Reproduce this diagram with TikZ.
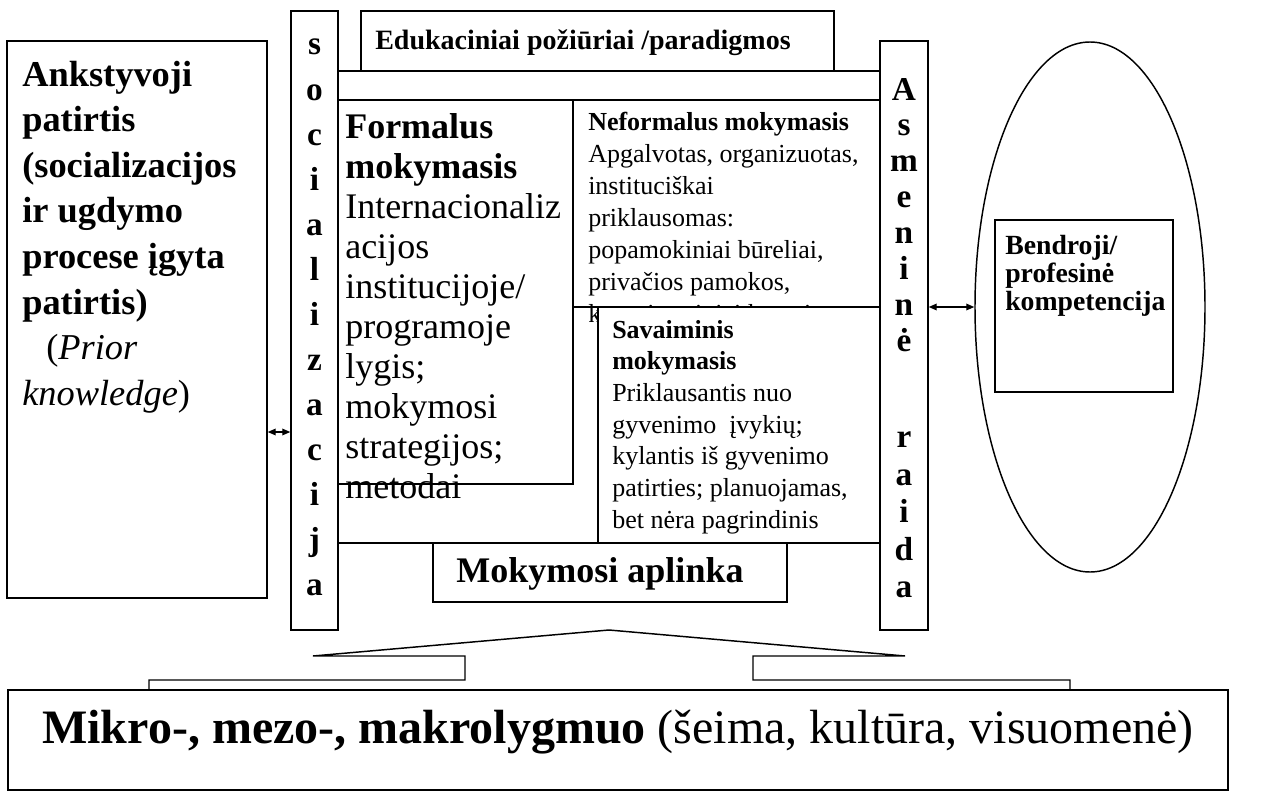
\documentclass[tikz,border=0pt]{standalone}
\usepackage{fontspec}
\setmainfont{Liberation Serif}
\usetikzlibrary{shapes.geometric,arrows.meta,fit}
\begin{document}
\begin{tikzpicture}[x=0.75pt,y=-0.75pt,
  box/.style={draw,line width=1.1pt,inner sep=0pt},
  txt/.style={inner sep=0pt,anchor=base west},
  vlet/.style={inner sep=0pt,anchor=base,font=\fontsize{25}{28}\selectfont\bfseries},
  dbl/.style={{Triangle[length=6pt,width=5pt]}-{Triangle[length=6pt,width=5pt]},line width=0.9pt}]
\useasboundingbox (0,0) rectangle (1286,803);
% frame boxes
\node[box,fit={(7,41)(267,598)}] (prior) {};
\node[box,fit={(291,11)(338,630)}] (soc) {};
\node[box,fit={(880,41)(928,630)}] (asm) {};
\node[box,fit={(361,11)(834,71)}] (edu) {};
\node[box,fit={(338,71)(880,543)}] (band) {};
\node[box,fit={(338,71)(880,100)}] (strip) {};
\node[box,fit={(338,100)(573,484)}] (formal) {};
\node[box,fit={(573,100)(880,307)}] (neform) {};
% Neformalus text (its last line is partly hidden by the next box)
\node[txt,font=\fontsize{19.5}{24}\selectfont] (tneform) at (588,130) {\begin{tabular}[t]{@{}l@{}}
\textbf{Neformalus mokymasis}\\
Apgalvotas, organizuotas,\\
instituciškai\\
priklausomas:\\
popamokiniai būreliai,\\
privačios pamokos,\\
kompiuteriniai kursai\end{tabular}};
\node[box,fill=white,fit={(598,307)(880,543)}] (savai) {};
\node[txt,font=\fontsize{19.5}{23.8}\selectfont] (tsavai) at (612,338) {\begin{tabular}[t]{@{}l@{}}
\textbf{Savaiminis}\\
\textbf{mokymasis}\\
Priklausantis nuo\\
gyvenimo\ \ įvykių;\\
kylantis iš gyvenimo\\
patirties; planuojamas,\\
bet nėra pagrindinis\end{tabular}};
\node[txt,font=\fontsize{27}{30}\selectfont] (tformal) at (345,138) {\begin{tabular}[t]{@{}l@{}}
\textbf{Formalus}\\
\textbf{mokymasis}\\
Internacionaliz\\
acijos\\
institucijoje/\\
programoje\\
lygis;\\
mokymosi\\
strategijos;\\
metodai\end{tabular}};
\node[txt,font=\fontsize{27.3}{34.2}\selectfont] (tprior) at (22,86) {\begin{tabular}[t]{@{}l@{}}
\textbf{Ankstyvoji}\\
\textbf{patirtis}\\
\textbf{(socializacijos}\\
\textbf{ir ugdymo}\\
\textbf{procese įgyta}\\
\textbf{patirtis)}\\
\hspace*{18pt}(\textit{Prior}\\
\textit{knowledge})\end{tabular}};
\node[txt,font=\fontsize{21}{24}\selectfont\bfseries] (tedu) at (375,50) {Edukaciniai požiūriai /paradigmos};
\node[box,fit={(433,543)(787,602)}] (aplinka) {};
\node[inner sep=0pt,anchor=base,font=\fontsize{27}{30}\selectfont\bfseries] (taplinka) at (600,582) {Mokymosi aplinka};
% vertical words
\foreach \l [count=\i from 0] in {s,o,c,i,a,l,i,z,a,c,i,j,a}
  \node[vlet] (soc\i) at (314.5,55+45*\i) {\l};
\foreach \l/\yy [count=\i] in {A/100,s/135,m/171,e/207,n/243,i/279,n/315,ė/351,r/447,a/485,i/522,d/560,a/597}
  \node[vlet] (asm\i) at (904,\yy) {\l};
% competence ellipse
\node[box,ellipse,minimum width=172.5pt,minimum height=397.5pt] (komp) at (1090,307) {};
\node[box,fit={(995,220)(1173,392)}] (bendr) {};
\node[txt,font=\fontsize{20.8}{21}\selectfont] (tbendr) at (1005,254) {\begin{tabular}[t]{@{}l@{}}
\textbf{Bendroji/}\\
\textbf{profesinė}\\
\textbf{kompetencija}\end{tabular}};
% arrows
\coordinate (la) at (0,432);
\draw[dbl] (prior.east |- la) -- (soc.west |- la);
\draw[dbl] (asm.east |- komp.west) -- (komp.west);
% bottom level box and callout
\node[box,fit={(8,690)(1228,790)}] (lygis) {};
\node[inner sep=0pt,anchor=base,font=\fontsize{36}{40}\selectfont] (tlygis) at (618,743) {\textbf{Mikro-, mezo-, makrolygmuo} (šeima, kultūra, visuomenė)};
\draw[line width=1.1pt,line join=miter] (149,690) -- (149,680) -- (465,680) -- (465,656) -- (313,656) -- (609,630) -- (905,656) -- (753,656) -- (753,680) -- (1070,680) -- (1070,690);
\end{tikzpicture}
\end{document}
